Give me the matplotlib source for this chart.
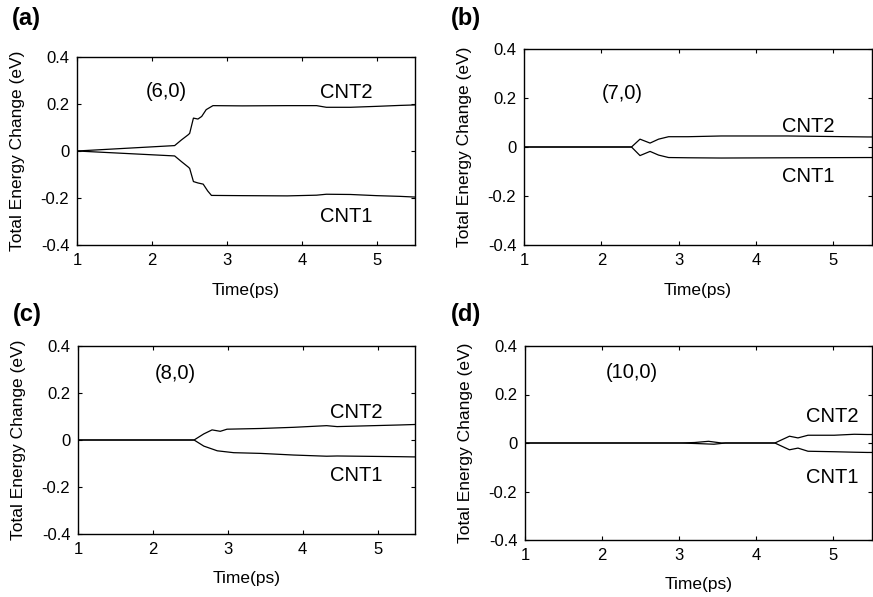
import matplotlib
matplotlib.use("Agg")
import matplotlib.pyplot as plt
from matplotlib.transforms import blended_transform_factory

plt.rcParams['font.family'] = ['Liberation Sans', 'DejaVu Sans']

# ---- data ----
# (a) (6,0)
ta_2 = [1.0, 2.30, 2.39, 2.48, 2.50, 2.55, 2.61, 2.66, 2.72, 2.81, 3.2, 3.8, 4.19, 4.32, 4.64, 4.99, 5.3, 5.5]
ea_2 = [0.0, 0.023, 0.047, 0.069, 0.075, 0.14, 0.136, 0.147, 0.176, 0.193, 0.192, 0.193, 0.193, 0.186, 0.186, 0.19, 0.194, 0.196]
ta_1 = [1.0, 2.30, 2.39, 2.48, 2.50, 2.55, 2.61, 2.68, 2.74, 2.79, 3.2, 3.8, 4.19, 4.32, 4.64, 4.99, 5.3, 5.5]
ea_1 = [0.0, -0.021, -0.045, -0.068, -0.074, -0.13, -0.136, -0.141, -0.17, -0.189, -0.19, -0.191, -0.188, -0.184, -0.185, -0.19, -0.193, -0.196]

# (b) (7,0)
tb_2 = [1.0, 2.39, 2.50, 2.63, 2.74, 2.87, 3.12, 3.55, 4.41, 5.44, 5.5]
eb_2 = [0.0, 0.0, 0.032, 0.016, 0.032, 0.042, 0.042, 0.045, 0.045, 0.041, 0.041]
tb_1 = [1.0, 2.39, 2.50, 2.63, 2.74, 2.87, 3.12, 3.55, 4.41, 5.44, 5.5]
eb_1 = [0.0, 0.0, -0.035, -0.018, -0.033, -0.043, -0.044, -0.045, -0.044, -0.043, -0.043]

# (c) (8,0)
tc_2 = [1.0, 2.55, 2.68, 2.79, 2.90, 2.99, 3.44, 3.88, 4.32, 4.46, 5.3, 5.5]
ec_2 = [0.0, 0.0, 0.026, 0.043, 0.037, 0.046, 0.049, 0.054, 0.061, 0.057, 0.064, 0.066]
tc_1 = [1.0, 2.55, 2.68, 2.86, 3.08, 3.44, 3.88, 4.32, 4.46, 5.3, 5.5]
ec_1 = [0.0, 0.0, -0.026, -0.046, -0.054, -0.057, -0.064, -0.069, -0.068, -0.071, -0.072]

# (d) (10,0)
td_2 = [1.0, 3.0, 3.2, 3.38, 3.55, 4.24, 4.43, 4.54, 4.67, 5.01, 5.27, 5.44, 5.5]
ed_2 = [0.0, 0.0, 0.002, 0.007, 0.0, 0.0, 0.028, 0.021, 0.032, 0.032, 0.036, 0.035, 0.035]
td_1 = [1.0, 3.0, 3.2, 3.45, 3.6, 4.24, 4.43, 4.54, 4.67, 5.01, 5.27, 5.44, 5.5]
ed_1 = [0.0, 0.0, -0.002, -0.005, 0.0, 0.0, -0.028, -0.021, -0.034, -0.036, -0.038, -0.039, -0.039]

panel_letters = ['(a)', '(b)', '(c)', '(d)']
tube_labels = ['(6,0)', '(7,0)', '(8,0)', '(10,0)']
xticks = [1, 2, 3, 4, 5]
yticks = [-0.4, -0.2, 0, 0.2, 0.4]
yticklabels = ['-0.4', '-0.2', '0', '0.2', '0.4']

fig = plt.figure(figsize=(8.73, 5.97), dpi=100)

W, H = 873.0, 597.0
def rect(l, t, r, b):
    return [l / W, 1 - b / H, (r - l) / W, (b - t) / H]

boxes = [(77, 57, 415, 245), (524, 49, 872, 245),
         (78, 346, 415, 534), (525, 346, 872, 540)]

series = [((ta_2, ea_2), (ta_1, ea_1)), ((tb_2, eb_2), (tb_1, eb_1)),
          ((tc_2, ec_2), (tc_1, ec_1)), ((td_2, ed_2), (td_1, ed_1))]

tube_pos = [(2.19, 0.254), (2.27, 0.219), (2.30, 0.283), (2.39, 0.29)]
cnt2_pos = [(4.59, 0.25), (4.67, 0.084), (4.72, 0.119), (4.99, 0.109)]
cnt1_pos = [(4.59, -0.28), (4.67, -0.12), (4.72, -0.153), (4.99, -0.143)]
letter_pos = [(26, 19), (466, 18), (27, 315), (466, 315)]

for i in range(4):
    l, t, r, b = boxes[i]
    ax = fig.add_axes(rect(l, t, r, b))
    (t2, e2), (t1, e1) = series[i]
    ax.plot(t2, e2, color='black', lw=0.9)
    ax.plot(t1, e1, color='black', lw=0.9)
    ax.set_xlim(1, 5.5)
    ax.set_ylim(-0.4, 0.4)
    ax.set_xticks(xticks)
    ax.set_yticks(yticks)
    ax.set_yticklabels(yticklabels)
    ax.tick_params(direction='in', top=True, right=True, length=3, width=0.8,
                   labelsize=12, pad=5.5)
    for s in ax.spines.values():
        s.set_linewidth(1.0)
    ax.set_xlabel('Time(ps)', fontsize=12.5)
    ax.set_ylabel('Total Energy Change (eV)', fontsize=12.5)
    ax.yaxis.set_label_coords((l - 59.5) / W, 0.5,
                              transform=blended_transform_factory(fig.transFigure, ax.transAxes))
    ax.yaxis.label.set_verticalalignment('center')
    ax.xaxis.set_label_coords(0.5, 1 - (b + 45) / H,
                              transform=blended_transform_factory(ax.transAxes, fig.transFigure))
    ax.xaxis.label.set_verticalalignment('center')
    ax.text(*tube_pos[i], tube_labels[i], fontsize=14.5, ha='center', va='center')
    ax.text(*cnt2_pos[i], 'CNT2', fontsize=14.5, ha='center', va='center')
    ax.text(*cnt1_pos[i], 'CNT1', fontsize=14.5, ha='center', va='center')
    lx, ly = letter_pos[i]
    fig.text(lx / W, 1 - ly / H, panel_letters[i], fontsize=17, fontweight='bold',
             ha='center', va='center')

fig.savefig('out.png', dpi=100)
